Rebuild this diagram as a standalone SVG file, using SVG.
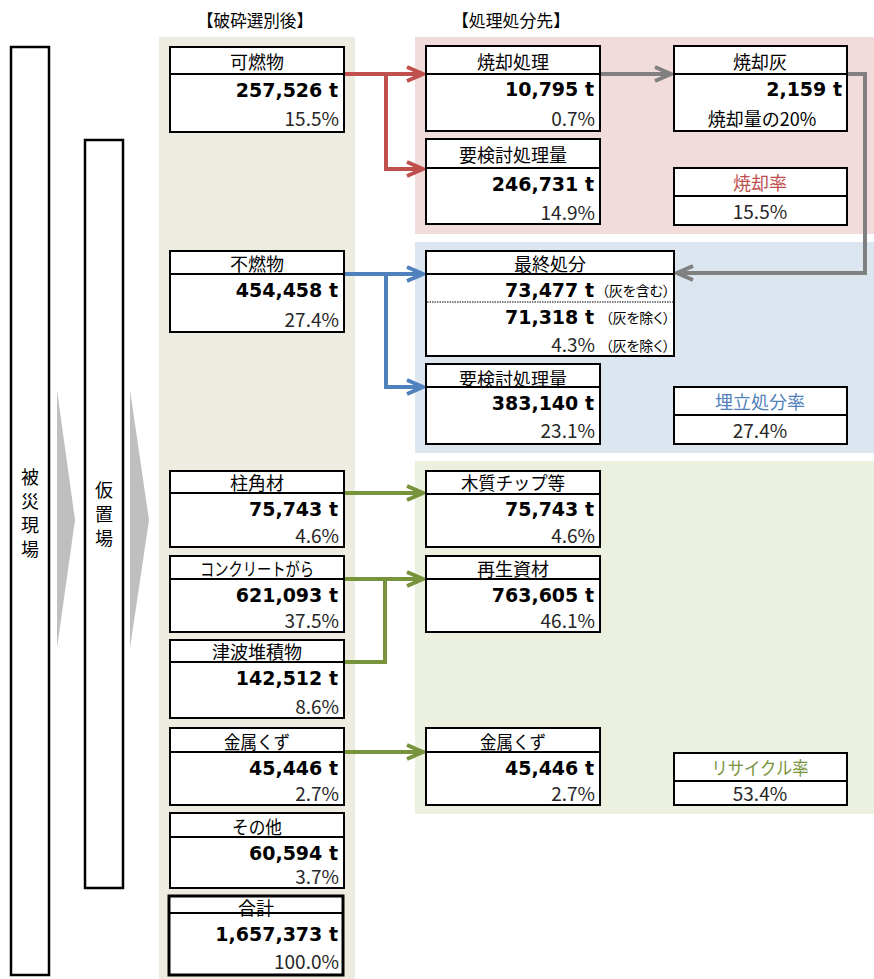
<svg xmlns="http://www.w3.org/2000/svg" width="874" height="979" viewBox="0 0 874 979">
<defs>
<style>
.box{fill:#fff;stroke:#000;stroke-width:2}
.tot{fill:#fff;stroke:#000;stroke-width:3}
.dv{stroke:#000;stroke-width:2}
.hd{font-family:"Noto Sans CJK JP","Noto Sans CJK SC",sans-serif;font-size:18px;text-anchor:middle;fill:#000}
.num{font-family:"DejaVu Sans",sans-serif;font-weight:bold;font-size:19px;text-anchor:end;fill:#000}
.pct{font-family:"Noto Sans CJK JP",sans-serif;font-size:19px;text-anchor:end;fill:#262626}
.rv{font-family:"Noto Sans CJK JP",sans-serif;font-size:19px;text-anchor:middle;fill:#262626}
.sm{font-family:"Noto Sans CJK JP",sans-serif;font-size:14px;fill:#000;text-anchor:end;font-feature-settings:"palt"}
.cap{font-family:"Noto Sans CJK JP",sans-serif;font-size:17px;text-anchor:middle;fill:#000}
.vt{font-family:"Noto Sans CJK JP",sans-serif;font-size:18px;text-anchor:middle;fill:#000}
.ar{fill:none;stroke-width:4}
.red{stroke:#C0504D}.blu{stroke:#4F81BD}.grn{stroke:#77933C}.gry{stroke:#808080}
</style>
<marker id="mr" markerUnits="userSpaceOnUse" markerWidth="24" markerHeight="20" refX="19" refY="10" orient="auto"><path d="M3,3 L19,10 L3,17" fill="none" stroke="#C0504D" stroke-width="4"/></marker>
<marker id="mb" markerUnits="userSpaceOnUse" markerWidth="24" markerHeight="20" refX="19" refY="10" orient="auto"><path d="M3,3 L19,10 L3,17" fill="none" stroke="#4F81BD" stroke-width="4"/></marker>
<marker id="mg" markerUnits="userSpaceOnUse" markerWidth="24" markerHeight="20" refX="19" refY="10" orient="auto"><path d="M3,3 L19,10 L3,17" fill="none" stroke="#77933C" stroke-width="4"/></marker>
<marker id="my" markerUnits="userSpaceOnUse" markerWidth="24" markerHeight="20" refX="19" refY="10" orient="auto"><path d="M3,3 L19,10 L3,17" fill="none" stroke="#808080" stroke-width="4"/></marker>
</defs>
<rect width="874" height="979" fill="#fff"/>

<!-- backgrounds -->
<rect x="159" y="37" width="196" height="942" fill="#EEEBE0"/>
<rect x="415" y="37" width="459" height="197" fill="#F2DCDB"/>
<rect x="415" y="242" width="459" height="211" fill="#DCE6F1"/>
<rect x="415" y="461" width="459" height="353" fill="#EBF1DE"/>

<text class="cap" x="255" y="27" textLength="116" lengthAdjust="spacingAndGlyphs">【破砕選別後】</text>
<text class="cap" x="511" y="27" textLength="118" lengthAdjust="spacingAndGlyphs">【処理処分先】</text>

<g id="site">
<rect x="11" y="47" width="38" height="928" fill="#fff" stroke="#000" stroke-width="2.5"/>
<text class="vt" x="30" y="484">被</text><text class="vt" x="30" y="508">災</text><text class="vt" x="30" y="532">現</text><text class="vt" x="30" y="556">場</text>
</g>
<polygon points="57,390 75,520 57,648" fill="#BFBFBF"/>
<g id="temp">
<rect x="85" y="140" width="38" height="748" fill="#fff" stroke="#000" stroke-width="2.5"/>
<text class="vt" x="104" y="497">仮</text><text class="vt" x="104" y="521">置</text><text class="vt" x="104" y="545">場</text>
</g>
<polygon points="130,390 149,520 130,648" fill="#BFBFBF"/>

<g id="connectors">
<path class="ar red" d="M344,74 H423" marker-end="url(#mr)"/>
<path class="ar red" d="M386,74 V169 H423" marker-end="url(#mr)"/>
<path class="ar gry" d="M600,74 H671" marker-end="url(#my)"/>
<path class="ar gry" d="M847,74 H865 V273 H677" marker-end="url(#my)"/>
<path class="ar blu" d="M344,274 H423" marker-end="url(#mb)"/>
<path class="ar blu" d="M386,274 V387 H423" marker-end="url(#mb)"/>
<path class="ar grn" d="M344,493 H423" marker-end="url(#mg)"/>
<path class="ar grn" d="M344,579 H423" marker-end="url(#mg)"/>
<path class="ar grn" d="M344,662 H385 V579"/>
<path class="ar grn" d="M344,752 H423" marker-end="url(#mg)"/>
</g>

<!-- left column -->
<g id="kanen">
<rect class="box" x="170" y="47" width="174" height="85"/><line class="dv" x1="170" y1="74" x2="344" y2="74"/>
<text class="hd" x="257" y="69">可燃物</text>
<text class="num" x="338" y="97">257,526 t</text>
<text class="pct" x="339" y="126">15.5%</text>
</g>
<g id="funen">
<rect class="box" x="170" y="251" width="174" height="81"/><line class="dv" x1="170" y1="274" x2="344" y2="274"/>
<text class="hd" x="257" y="271">不燃物</text>
<text class="num" x="338" y="297">454,458 t</text>
<text class="pct" x="339" y="327">27.4%</text>
</g>
<g id="hashira">
<rect class="box" x="170" y="471" width="174" height="76"/><line class="dv" x1="170" y1="493" x2="344" y2="493"/>
<text class="hd" x="257" y="490">柱角材</text>
<text class="num" x="338" y="516">75,743 t</text>
<text class="pct" x="339" y="543">4.6%</text>
</g>
<g id="concrete">
<rect class="box" x="170" y="556" width="174" height="76"/><line class="dv" x1="170" y1="579" x2="344" y2="579"/>
<text class="hd" x="257" y="576" textLength="114" lengthAdjust="spacingAndGlyphs">コンクリートがら</text>
<text class="num" x="338" y="602">621,093 t</text>
<text class="pct" x="339" y="628">37.5%</text>
</g>
<g id="tsunami">
<rect class="box" x="170" y="640" width="174" height="78"/><line class="dv" x1="170" y1="662" x2="344" y2="662"/>
<text class="hd" x="257" y="659">津波堆積物</text>
<text class="num" x="338" y="685">142,512 t</text>
<text class="pct" x="339" y="714">8.6%</text>
</g>
<g id="kinzoku">
<rect class="box" x="170" y="728" width="174" height="77"/><line class="dv" x1="170" y1="752" x2="344" y2="752"/>
<text class="hd" x="257" y="749" textLength="66" lengthAdjust="spacingAndGlyphs">金属くず</text>
<text class="num" x="338" y="775">45,446 t</text>
<text class="pct" x="339" y="801">2.7%</text>
</g>
<g id="sonota">
<rect class="box" x="170" y="813" width="174" height="75"/><line class="dv" x1="170" y1="837" x2="344" y2="837"/>
<text class="hd" x="257" y="834" textLength="50" lengthAdjust="spacingAndGlyphs">その他</text>
<text class="num" x="338" y="860">60,594 t</text>
<text class="pct" x="339" y="884">3.7%</text>
</g>
<g id="goukei">
<rect class="tot" x="169" y="896" width="174" height="79"/><line class="dv" x1="169" y1="913" x2="343" y2="913"/>
<text class="hd" x="256" y="915">合計</text>
<text class="num" x="338" y="941">1,657,373 t</text>
<text class="pct" x="339" y="969">100.0%</text>
</g>

<!-- pink area -->
<g id="shoukyaku">
<rect class="box" x="426" y="46" width="174" height="85"/><line class="dv" x1="426" y1="74" x2="600" y2="74"/>
<text class="hd" x="513" y="69">焼却処理</text>
<text class="num" x="594" y="96">10,795 t</text>
<text class="pct" x="595" y="126">0.7%</text>
</g>
<g id="youkentou1">
<rect class="box" x="426" y="139" width="174" height="85"/><line class="dv" x1="426" y1="168" x2="600" y2="168"/>
<text class="hd" x="513" y="162">要検討処理量</text>
<text class="num" x="594" y="191">246,731 t</text>
<text class="pct" x="595" y="220">14.9%</text>
</g>
<g id="hai">
<rect class="box" x="674" y="46" width="173" height="85"/><line class="dv" x1="674" y1="74" x2="847" y2="74"/>
<text class="hd" x="760" y="69">焼却灰</text>
<text class="num" x="842" y="96">2,159 t</text>
<text class="hd" x="762" y="126">焼却量の20%</text>
</g>
<g id="shoukyakuritsu">
<rect class="box" x="674" y="168" width="173" height="57"/><line class="dv" x1="674" y1="196" x2="847" y2="196"/>
<text class="hd" x="760" y="190" style="fill:#C0504D">焼却率</text>
<text class="rv" x="760" y="219">15.5%</text>
</g>

<!-- blue area -->
<g id="saishu">
<rect class="box" x="426" y="251" width="248" height="105"/><line class="dv" x1="426" y1="274" x2="674" y2="274"/>
<line x1="427" y1="302" x2="673" y2="302" stroke="#808080" stroke-width="2" stroke-dasharray="1.5 1"/>
<text class="hd" x="550" y="271">最終処分</text>
<text class="num" x="594" y="297">73,477 t</text><text class="sm" x="670" y="296">（灰を含む）</text>
<text class="num" x="594" y="324">71,318 t</text><text class="sm" x="670" y="323">（灰を除く）</text>
<text class="pct" x="595" y="352">4.3%</text><text class="sm" x="670" y="351">（灰を除く）</text>
</g>
<g id="youkentou2">
<rect class="box" x="426" y="364" width="174" height="80"/><line class="dv" x1="426" y1="387" x2="600" y2="387"/>
<text class="hd" x="513" y="386">要検討処理量</text>
<text class="num" x="594" y="410">383,140 t</text>
<text class="pct" x="595" y="438">23.1%</text>
</g>
<g id="umetate">
<rect class="box" x="674" y="387" width="173" height="57"/><line class="dv" x1="674" y1="415" x2="847" y2="415"/>
<text class="hd" x="760" y="409" style="fill:#4F81BD">埋立処分率</text>
<text class="rv" x="760" y="438">27.4%</text>
</g>

<!-- green area -->
<g id="mokushitsu">
<rect class="box" x="426" y="471" width="174" height="76"/><line class="dv" x1="426" y1="494" x2="600" y2="494"/>
<text class="hd" x="513" y="490" textLength="104" lengthAdjust="spacingAndGlyphs">木質チップ等</text>
<text class="num" x="594" y="516">75,743 t</text>
<text class="pct" x="595" y="543">4.6%</text>
</g>
<g id="saisei">
<rect class="box" x="426" y="556" width="174" height="76"/><line class="dv" x1="426" y1="579" x2="600" y2="579"/>
<text class="hd" x="513" y="576">再生資材</text>
<text class="num" x="594" y="602">763,605 t</text>
<text class="pct" x="595" y="628">46.1%</text>
</g>
<g id="kinzoku2">
<rect class="box" x="426" y="728" width="174" height="77"/><line class="dv" x1="426" y1="752" x2="600" y2="752"/>
<text class="hd" x="513" y="749" textLength="66" lengthAdjust="spacingAndGlyphs">金属くず</text>
<text class="num" x="594" y="775">45,446 t</text>
<text class="pct" x="595" y="801">2.7%</text>
</g>
<g id="recycle">
<rect class="box" x="674" y="753" width="173" height="52"/><line class="dv" x1="674" y1="781" x2="847" y2="781"/>
<text class="hd" x="760" y="775" textLength="97" lengthAdjust="spacingAndGlyphs" style="fill:#77933C">リサイクル率</text>
<text class="rv" x="760" y="801">53.4%</text>
</g>
</svg>
